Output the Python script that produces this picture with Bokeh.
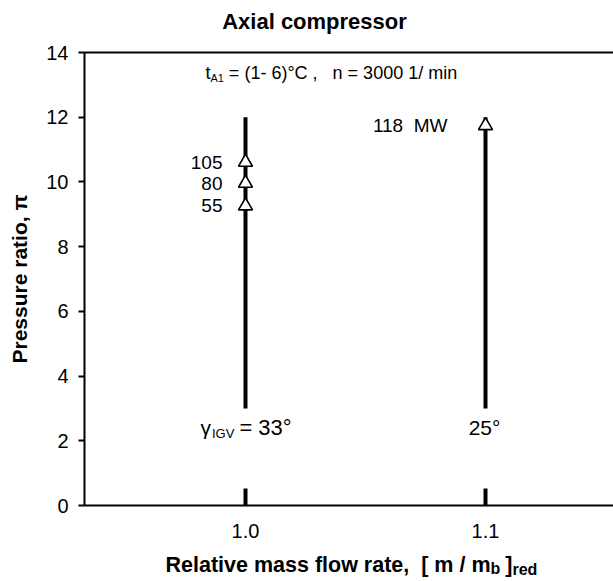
from bokeh.plotting import figure
from bokeh.models import Range1d, FixedTicker, LinearAxis, Label, ColumnDataSource
from bokeh.layouts import column
from bokeh.core.properties import value
from bokeh.embed import file_html
from bokeh.resources import INLINE

# ---------------- data ----------------
flow_rate = [1.0, 1.1]            # relative mass flow rate of the two IGV settings
pi_low = [3.0, 3.0]               # lower end of operating line
pi_high = [12.0, 12.0]            # upper end of operating line
igv_angle_labels = ["33°", "25°"]

pt_flow = [1.0, 1.0, 1.0, 1.1]    # measured points (triangles)
pt_pi = [9.26, 9.96, 10.61, 11.74]
pt_power = ["55", "80", "105", "118\u00a0\u00a0MW"]

y_ticks = [0, 2, 4, 6, 8, 10, 12, 14]
x_ticks = [1.0, 1.1]
x_tick_labels = ["1.0", "1.1"]

FONT = "Liberation Sans"
NB = "\u00a0"
W = 613
LEFT = 84   # frame left edge shared by all strips

# approximate Arial advance widths (per 1000 em) for composing sub-scripted texts
REG = {' ': 278, NB: 278, '(': 333, ')': 333, '-': 333, '=': 584, ',': 278, '.': 278, '/': 278,
       '°': 400, 'A': 667, 'C': 722, 'G': 778, 'I': 278, 'M': 833, 'V': 667, 'W': 944,
       'n': 556, 'm': 833, 'i': 222, 't': 278, 'γ': 500}
BOLD = {' ': 278, NB: 278, 'R': 722, 'e': 556, 'l': 278, 'a': 556, 't': 333, 'i': 278, 'v': 556,
        'm': 889, 's': 556, 'f': 333, 'o': 611, 'w': 778, 'r': 389, ',': 278, '[': 333,
        ']': 333, '/': 278, 'b': 611, 'd': 611}


def tw(s, size, bold=False):
    tab = BOLD if bold else REG
    return sum(tab.get(c, 556) for c in s) * size / 1000.0


def text_fig(h):
    # x in page pixels, y in strip pixels from the top
    f = figure(width=W, height=h, x_range=Range1d(LEFT, W), y_range=Range1d(h, 0),
               x_axis_type=None, y_axis_type=None, output_backend="svg",
               toolbar_location=None, min_border_left=LEFT, min_border_right=0,
               min_border_top=0, min_border_bottom=0)
    f.outline_line_color = None
    f.grid.visible = False
    return f


# ---------------- title strip ----------------
TH = 40
tfig = text_fig(TH)
title_src = ColumnDataSource(dict(x=[314], y=[21], t=["Axial compressor"]))
tfig.text(x="x", y="y", text="t", source=title_src, text_font=value(FONT),
          text_font_size="22px", text_font_style="bold", text_align="center",
          text_baseline="middle", text_color="black")

# ---------------- main plot ----------------
p = figure(width=W, height=500,
           x_range=Range1d(0.93292, 1.15333), y_range=Range1d(0, 14),
           output_backend="svg", toolbar_location=None,
           min_border_left=LEFT, min_border_right=0, min_border_top=12, min_border_bottom=28)
p.outline_line_color = None
p.grid.visible = False
p.background_fill_color = "white"
p.border_fill_color = "white"

ya = p.yaxis[0]
ya.ticker = FixedTicker(ticks=y_ticks)
ya.axis_label = "Pressure ratio, π"
ya.axis_label_text_font = FONT
ya.axis_label_text_font_style = "bold"
ya.axis_label_text_font_size = "21px"
ya.axis_label_text_color = "black"
ya.axis_label_standoff = 12
ya.major_label_text_font = FONT
ya.major_label_text_font_size = "20px"
ya.major_label_text_color = "black"
ya.major_label_standoff = 10
ya.major_tick_out = 6
ya.major_tick_in = 0
ya.major_tick_line_width = 2
ya.major_tick_line_color = "black"
ya.minor_tick_line_color = None
ya.axis_line_width = 2
ya.axis_line_color = "black"

xa = p.xaxis[0]
xa.ticker = FixedTicker(ticks=x_ticks)
xa.major_label_overrides = {t: l for t, l in zip(x_ticks, x_tick_labels)}
xa.major_label_text_font = FONT
xa.major_label_text_font_size = "20px"
xa.major_label_text_color = "black"
xa.major_label_standoff = 18
xa.major_tick_in = 17
xa.major_tick_out = 0
xa.major_tick_line_width = 4
xa.major_tick_line_color = "black"
xa.minor_tick_line_color = None
xa.axis_line_width = 2
xa.axis_line_color = "black"

top = LinearAxis(ticker=FixedTicker(ticks=[]), major_tick_line_color=None,
                 minor_tick_line_color=None, major_label_text_font_size="0px",
                 major_label_standoff=0, axis_line_width=2, axis_line_color="black")
p.add_layout(top, "above")

src_lines = ColumnDataSource(dict(x=flow_rate, y0=pi_low, y1=pi_high))
p.segment(x0="x", y0="y0", x1="x", y1="y1", source=src_lines,
          line_width=4, line_color="black")

src_pts = ColumnDataSource(dict(x=pt_flow, y=pt_pi))
p.scatter(x="x", y="y", source=src_pts, marker="triangle", size=14,
          fill_color="white", line_color="black", line_width=1.6)


def lab(x, y, text, size, bold=False, xoff=0, yoff=0, align="left"):
    p.add_layout(Label(x=x, y=y, text=text, x_offset=xoff, y_offset=yoff,
                       text_font=FONT, text_font_size=f"{size}px",
                       text_font_style="bold" if bold else "normal",
                       text_align=align, text_baseline="middle", text_color="black"))


for x, y, t in zip(pt_flow, pt_pi, pt_power):
    off = -23 if x == 1.0 else -38
    lab(x, y, t, 19, xoff=off, align="right")

lab(flow_rate[1], 2.40, igv_angle_labels[1], 21, xoff=-1, align="center")
gx = 0.98125
lab(gx, 2.40, "γ", 21)
lab(gx, 2.40, "IGV", 13, xoff=tw("γ", 21) + 1, yoff=-6)
lab(gx, 2.40, "=" + NB + igv_angle_labels[0], 22, xoff=tw("γ", 21) + tw("IGV", 13) + 6)

tx = 0.9833
lab(tx, 13.36, "t", 18)
lab(tx, 13.36, "A1", 11, xoff=tw("t", 18), yoff=-5)
rest = NB + "=" + NB + "(1-" + NB + "6)°C" + NB + "," + NB * 3 + "n" + NB + "=" + NB + "3000" + NB + "1/" + NB + "min"
lab(tx, 13.36, rest, 18, xoff=tw("t", 18) + tw("A1", 11))

# ---------------- x-axis title strip ----------------
XH = 581 - TH - 500
xfig = text_fig(XH)
main = "Relative mass flow rate," + NB + NB + "[" + NB + "m" + NB + "/" + NB + "m"
x0 = 165
yc = 24
w1 = tw(main, 21.5, True)
w2 = w1 + tw("b", 16, True) + 5
w3 = w2 + tw("]", 21.5, True)
pieces = dict(
    x=[x0, x0 + w1, x0 + w2, x0 + w3],
    y=[yc, yc + 4, yc, yc + 5],
    t=[main, "b", "]", "red"],
    s=["21.5px", "16px", "21.5px", "16px"],
)
xsrc = ColumnDataSource(pieces)
xfig.text(x="x", y="y", text="t", text_font_size="s", source=xsrc, text_font=value(FONT),
          text_font_style="bold", text_align="left", text_baseline="middle", text_color="black")

layout = column(tfig, p, xfig, spacing=0)
open("out.html", "w").write(file_html(layout, INLINE))
